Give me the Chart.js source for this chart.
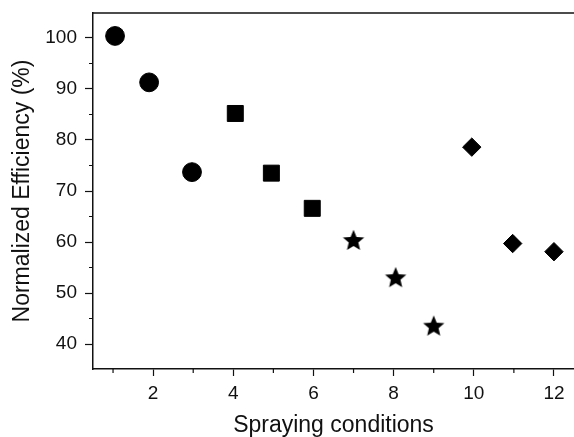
<!DOCTYPE html>
<html>
<head>
<meta charset="utf-8">
<script src="https://cdn.jsdelivr.net/npm/chart.js@4.4.0/dist/chart.umd.min.js"></script>
<style>
  html, body { margin: 0; padding: 0; background: #fff; }
  #wrap { width: 574px; height: 437px; position: relative; }
</style>
</head>
<body>
<div id="wrap"><canvas id="c" width="574" height="437"></canvas></div>
<script>
// ---- Data ----
const circleX = [1.05, 1.9, 2.97];
const circleY = [100.4, 91.3, 73.7];
const squareX = [4.05, 4.95, 5.97];
const squareY = [85.2, 73.5, 66.6];
const starX = [7.0, 8.05, 9.0];
const starY = [60.4, 53.1, 43.6];
const diamondX = [9.95, 10.97, 12.0];
const diamondY = [78.6, 59.7, 58.1];

const xMajorTicks = [2, 4, 6, 8, 10, 12];
const xMinorTicks = [1, 3, 5, 7, 9, 11];
const yMajorTicks = [40, 50, 60, 70, 80, 90, 100];
const yMinorTicks = [45, 55, 65, 75, 85, 95];

const xTitle = 'Spraying conditions';
const yTitle = 'Normalized Efficiency (%)';

function pts(xs, ys) { return xs.map((x, i) => ({ x: x, y: ys[i] })); }

// filled five-point star marker
function makeStar(size, R) {
  const c = document.createElement('canvas');
  c.width = size; c.height = size;
  const g = c.getContext('2d');
  const cx = size / 2, cy = size / 2 + 1;
  const r = R * 0.45;
  g.beginPath();
  for (let i = 0; i < 10; i++) {
    const ang = -Math.PI / 2 + i * Math.PI / 5;
    const rad = i % 2 === 0 ? R : r;
    const px = cx + rad * Math.cos(ang), py = cy + rad * Math.sin(ang);
    if (i === 0) g.moveTo(px, py); else g.lineTo(px, py);
  }
  g.closePath();
  g.fillStyle = '#000';
  g.fill();
  return c;
}
const starImg = makeStar(26, 11.2);

const INK = '#111';
const font = 'Liberation Sans, Arial, Helvetica, sans-serif';

const frame = {
  id: 'frame',
  afterDraw(chart) {
    const ctx = chart.ctx;
    const a = chart.chartArea;
    const xs = chart.scales.x, ys = chart.scales.y;
    ctx.save();
    ctx.strokeStyle = INK;
    ctx.lineWidth = 1.5;
    // top border
    ctx.beginPath();
    ctx.moveTo(a.left - 0.75, a.top);
    ctx.lineTo(a.right, a.top);
    ctx.stroke();
    // minor ticks
    ctx.lineWidth = 1.2;
    ctx.beginPath();
    xMinorTicks.forEach(v => {
      const px = xs.getPixelForValue(v);
      ctx.moveTo(px, a.bottom);
      ctx.lineTo(px, a.bottom + 4);
    });
    yMinorTicks.forEach(v => {
      const py = ys.getPixelForValue(v);
      ctx.moveTo(a.left, py);
      ctx.lineTo(a.left - 4, py);
    });
    ctx.stroke();
    ctx.restore();
  }
};

new Chart(document.getElementById('c'), {
  type: 'scatter',
  data: {
    datasets: [
      { data: pts(circleX, circleY), pointStyle: 'circle', pointRadius: 9.4, pointHoverRadius: 9.4,
        backgroundColor: '#000', borderColor: '#000', borderWidth: 1 },
      { data: pts(squareX, squareY), pointStyle: 'rect', pointRadius: 11.3, pointHoverRadius: 11.3,
        backgroundColor: '#000', borderColor: '#000', borderWidth: 1 },
      { data: pts(starX, starY), pointStyle: starImg,
        backgroundColor: '#000', borderColor: '#000' },
      { data: pts(diamondX, diamondY), pointStyle: 'rectRot', pointRadius: 9.2, pointHoverRadius: 9.2,
        backgroundColor: '#000', borderColor: '#000', borderWidth: 1 }
    ]
  },
  options: {
    responsive: false,
    animation: false,
    layout: { autoPadding: false, padding: { left: 0, right: 0, top: 13, bottom: 0 } },
    plugins: { legend: { display: false }, tooltip: { enabled: false } },
    scales: {
      x: {
        type: 'linear',
        min: 0.5, max: 12.5,
        afterBuildTicks: s => { s.ticks = xMajorTicks.map(v => ({ value: v })); },
        afterFit: s => { s.height = 68; s.paddingLeft = 0; s.paddingRight = 0; },
        grid: { drawOnChartArea: false, drawTicks: true, tickLength: 7, tickColor: INK, tickWidth: 1.2 },
        border: { display: true, color: INK, width: 1.5 },
        ticks: { color: INK, font: { family: font, size: 19 }, padding: 6, maxRotation: 0, autoSkip: false },
        title: { display: true, text: xTitle, color: INK, font: { family: font, size: 23, lineHeight: 1 },
                 padding: { top: 0, bottom: 0 } }
      },
      y: {
        type: 'linear',
        min: 35.1, max: 104.9,
        afterBuildTicks: s => { s.ticks = yMajorTicks.map(v => ({ value: v })); },
        afterFit: s => { s.width = 93; s.paddingTop = 0; s.paddingBottom = 0; },
        grid: { drawOnChartArea: false, drawTicks: true, tickLength: 8, tickColor: INK, tickWidth: 1.2 },
        border: { display: true, color: INK, width: 1.5 },
        ticks: { color: INK, font: { family: font, size: 19 }, padding: 8, autoSkip: false },
        title: { display: true, text: yTitle, color: INK, font: { family: font, size: 23, lineHeight: 1.2 },
                 padding: { top: 9, bottom: 0 } }
      }
    }
  },
  plugins: [frame]
});
</script>
</body>
</html>
